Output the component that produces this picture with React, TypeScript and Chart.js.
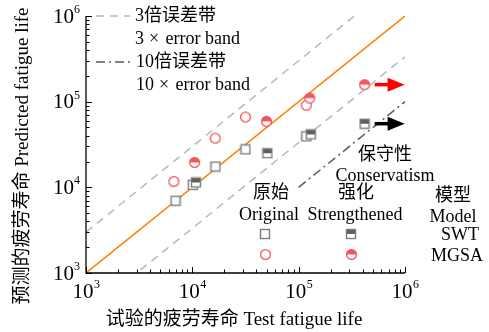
import React, { useEffect, useRef } from "react";
import { Chart, registerables } from "chart.js";
Chart.register(...registerables);

// ---- data (test life, predicted life) ----
const origSwtX = [6950, 10100, 16500, 31600, 118000];
const origSwtY = [6980, 10700, 17500, 27700, 39300];
const strSwtX = [10800, 50800, 130000, 417000];
const strSwtY = [11400, 25000, 41500, 55300];
const origMgsaX = [6700, 16400, 31600, 118000];
const origMgsaY = [11700, 37500, 66200, 90800];
const strMgsaX = [10500, 49800, 127000, 417000];
const strMgsaY = [19500, 58900, 110000, 158000];
const runoutIndex = 3; // index of run-out points (arrows) in strengthened series

const axisMin = 1e3;
const axisMax = 1e6;
const majorTicks = [1e3, 1e4, 1e5, 1e6];
const tickExponents = ["3", "4", "5", "6"];
const band3 = 3;
const band10 = 10;
const band10Start = 1e5;

const SERIF = "'Liberation Serif', 'Times New Roman', 'Noto Sans CJK SC', serif";
const font = (px: number) => `${px}px ${SERIF}`;

const GRAY = "#7c7c7c";
const GRAY_FILL = "#5e5e5e";
const RED = "#f4545c";
const ORANGE = "#ff8000";
const BAND3 = "#b8b8b8";
const BAND10 = "#5a5a5a";

function makeSquare(half: boolean): HTMLCanvasElement {
  const c = document.createElement("canvas");
  c.width = 12;
  c.height = 12;
  const ctx = c.getContext("2d")!;
  ctx.fillStyle = "#fff";
  ctx.fillRect(1.5, 1.5, 9, 9);
  if (half) {
    ctx.fillStyle = GRAY_FILL;
    ctx.fillRect(1.5, 1.5, 9, 4.5);
  }
  ctx.strokeStyle = GRAY;
  ctx.lineWidth = 1.4;
  ctx.strokeRect(1.5, 1.5, 9, 9);
  return c;
}

function makeCircle(half: boolean): HTMLCanvasElement {
  const c = document.createElement("canvas");
  c.width = 13;
  c.height = 13;
  const ctx = c.getContext("2d")!;
  ctx.beginPath();
  ctx.arc(6.5, 6.5, 4.9, 0, Math.PI * 2);
  ctx.fillStyle = "#fff";
  ctx.fill();
  if (half) {
    ctx.beginPath();
    ctx.arc(6.5, 6.5, 4.9, Math.PI, Math.PI * 2);
    ctx.closePath();
    ctx.fillStyle = RED;
    ctx.fill();
  }
  ctx.beginPath();
  ctx.arc(6.5, 6.5, 4.9, 0, Math.PI * 2);
  ctx.strokeStyle = RED;
  ctx.lineWidth = 1.3;
  ctx.stroke();
  return c;
}

const pts = (xs: number[], ys: number[]) => xs.map((x, i) => ({ x, y: ys[i] }));

export default function App() {
  const ref = useRef<HTMLCanvasElement>(null);
  useEffect(() => {
    const sqOpen = makeSquare(false);
    const sqHalf = makeSquare(true);
    const ciOpen = makeCircle(false);
    const ciHalf = makeCircle(true);

    const drawArrow = (ctx: CanvasRenderingContext2D, x: number, y: number, color: string) => {
      ctx.save();
      ctx.strokeStyle = color;
      ctx.fillStyle = color;
      ctx.lineWidth = 3.5;
      ctx.beginPath();
      ctx.moveTo(x + 10, y);
      ctx.lineTo(x + 25, y);
      ctx.stroke();
      ctx.beginPath();
      ctx.moveTo(x + 23, y - 7);
      ctx.lineTo(x + 40, y);
      ctx.lineTo(x + 23, y + 7);
      ctx.closePath();
      ctx.fill();
      ctx.restore();
    };

    const decor = {
      id: "decor",
      afterDraw(chart: any) {
        const ctx: CanvasRenderingContext2D = chart.ctx;
        const xs = chart.scales.x;
        const ys = chart.scales.y;
        const { left, right, top, bottom } = chart.chartArea;
        ctx.save();
        // axes
        ctx.strokeStyle = "#000";
        ctx.lineWidth = 1.3;
        ctx.beginPath();
        ctx.moveTo(left, top);
        ctx.lineTo(left, bottom);
        ctx.lineTo(right, bottom);
        ctx.stroke();
        // ticks (inward)
        ctx.lineWidth = 1;
        for (let d = 3; d <= 6; d++) {
          for (let m = 1; m <= 9; m++) {
            if (d === 6 && m > 1) break;
            const v = m * Math.pow(10, d);
            const len = m === 1 ? 6 : 3.5;
            const px = Math.round(xs.getPixelForValue(v)) + 0.5;
            const py = Math.round(ys.getPixelForValue(v)) + 0.5;
            ctx.beginPath();
            ctx.moveTo(px, bottom);
            ctx.lineTo(px, bottom - len);
            ctx.moveTo(left, py);
            ctx.lineTo(left + len, py);
            ctx.stroke();
          }
        }
        // tick labels
        ctx.fillStyle = "#000";
        ctx.textBaseline = "middle";
        majorTicks.forEach((v, i) => {
          ctx.font = font(21);
          const w10 = ctx.measureText("10").width;
          ctx.font = font(12);
          const we = ctx.measureText(tickExponents[i]).width;
          // x axis
          const px = xs.getPixelForValue(v);
          const sx = px - (w10 + we) / 2;
          ctx.textAlign = "left";
          ctx.font = font(21);
          ctx.fillText("10", sx, 292);
          ctx.font = font(12);
          ctx.fillText(tickExponents[i], sx + w10 + 0.5, 285);
          // y axis
          const py = ys.getPixelForValue(v);
          ctx.font = font(21);
          ctx.fillText("10", 80 - we - w10, py + 1);
          ctx.font = font(12);
          ctx.fillText(tickExponents[i], 80 - we, py - 6);
        });
        // axis titles
        ctx.font = font(19);
        ctx.textAlign = "center";
        ctx.fillText("试验的疲劳寿命 Test fatigue life", 234, 320);
        ctx.save();
        ctx.translate(23, 156);
        ctx.rotate(-Math.PI / 2);
        ctx.fillText("预测的疲劳寿命 Predicted fatigue life", 0, 0);
        ctx.restore();

        // band legend
        ctx.lineWidth = 1.5;
        ctx.strokeStyle = BAND3;
        ctx.setLineDash([8, 6]);
        ctx.beginPath();
        ctx.moveTo(96, 16);
        ctx.lineTo(130, 16);
        ctx.stroke();
        ctx.strokeStyle = BAND10;
        ctx.setLineDash([9, 4, 2, 4]);
        ctx.beginPath();
        ctx.moveTo(96, 62);
        ctx.lineTo(131, 62);
        ctx.stroke();
        ctx.setLineDash([]);
        ctx.textAlign = "left";
        ctx.font = font(18);
        const timesLine = (n: string, x: number, y: number) => {
          ctx.fillText(n, x, y);
          const w = ctx.measureText(n).width;
          ctx.textAlign = "center";
          ctx.fillText("×", x + w + 10, y);
          ctx.textAlign = "left";
          ctx.fillText(" error band", x + w + 17, y);
        };
        ctx.fillText("3倍误差带", 135, 16);
        timesLine("3", 135, 39);
        ctx.fillText("10倍误差带", 136, 62);
        timesLine("10", 136, 85);

        // conservatism annotation
        ctx.textAlign = "center";
        ctx.fillText("保守性", 385, 155);
        ctx.fillText("Conservatism", 385, 176);

        // marker legend table
        ctx.fillText("原始", 271, 193);
        ctx.fillText("Original", 269, 215);
        ctx.fillText("强化", 356, 193);
        ctx.fillText("Strengthened", 355, 215);
        ctx.fillText("模型", 453, 196);
        ctx.fillText("Model", 453, 217);
        ctx.fillText("SWT", 460, 235);
        ctx.fillText("MGSA", 457, 256);
        const put = (img: HTMLCanvasElement, x: number, y: number) =>
          ctx.drawImage(img, Math.round(x - img.width / 2), Math.round(y - img.height / 2));
        put(sqOpen, 265, 234);
        put(ciOpen, 265, 254);
        put(sqHalf, 351, 234);
        put(ciHalf, 351, 254);

        // run-out arrows
        drawArrow(ctx, xs.getPixelForValue(strMgsaX[runoutIndex]), ys.getPixelForValue(strMgsaY[runoutIndex]), "#ff0000");
        drawArrow(ctx, xs.getPixelForValue(strSwtX[runoutIndex]), ys.getPixelForValue(strSwtY[runoutIndex]), "#000000");
        ctx.restore();
      },
    };

    const lineDs = (data: any[], color: string, dash: number[]) => ({
      data,
      showLine: true,
      borderColor: color,
      borderWidth: 1.5,
      borderDash: dash,
      pointRadius: 0,
      fill: false,
      order: 10,
    });
    const markerDs = (xs: number[], ys: number[], img: HTMLCanvasElement, order: number) => ({
      data: pts(xs, ys),
      pointStyle: img,
      pointRadius: 6,
      showLine: false,
      order,
    });

    const chart = new Chart(ref.current!, {
      type: "scatter",
      data: {
        datasets: [
          lineDs([{ x: axisMin, y: axisMin }, { x: axisMax, y: axisMax }], ORANGE, []),
          lineDs([{ x: axisMin, y: axisMin * band3 }, { x: axisMax, y: axisMax * band3 }], BAND3, [8, 6]),
          lineDs([{ x: axisMin, y: axisMin / band3 }, { x: axisMax, y: axisMax / band3 }], BAND3, [8, 6]),
          lineDs([{ x: band10Start, y: band10Start / band10 }, { x: axisMax, y: axisMax / band10 }], BAND10, [9, 4, 2, 4]),
          markerDs(origSwtX, origSwtY, sqOpen, 4),
          markerDs(strSwtX, strSwtY, sqHalf, 3),
          markerDs(origMgsaX, origMgsaY, ciOpen, 2),
          markerDs(strMgsaX, strMgsaY, ciHalf, 1),
        ] as any,
      },
      options: {
        animation: false,
        responsive: false,
        layout: { padding: { left: 86, right: 84, top: 16, bottom: 59 } },
        plugins: { legend: { display: false }, tooltip: { enabled: false } },
        scales: {
          x: { type: "logarithmic", min: axisMin, max: axisMax, display: false },
          y: { type: "logarithmic", min: axisMin, max: axisMax, display: false },
        },
      },
      plugins: [decor],
    });
    return () => chart.destroy();
  }, []);
  return (
    <canvas
      ref={ref}
      width={489}
      height={332}
      style={{ position: "absolute", left: 0, top: 0, width: 489, height: 332, background: "#fff" }}
    />
  );
}
